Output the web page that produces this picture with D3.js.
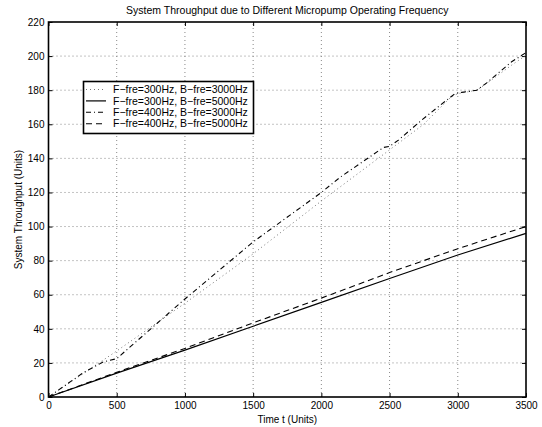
<!DOCTYPE html>
<html>
<head>
<meta charset="utf-8">
<script src="https://cdn.jsdelivr.net/npm/d3@7"></script>
<style>
  body { margin: 0; background: #fff; }
  text { font-family: "Liberation Sans", Arial, sans-serif; fill: #000; }
</style>
</head>
<body>
<svg id="chart"></svg>
<script>
let width = 542;
let height = 427;
let margin = {top: 22, right: 16, bottom: 30, left: 48.5};

// time values (Units) and throughput for each run
let xF300B3000 = [0, 500, 1000, 1500, 2000, 2500, 2750, 2950, 3000, 3140, 3212, 3400, 3500];
let yF300B3000 = [0, 27, 55, 84, 115, 145, 160, 176, 178, 180, 184, 195, 200.5];

let xF300B5000 = [0, 500, 1000, 1500, 2000, 2500, 3000, 3500];
let yF300B5000 = [0, 14, 27.5, 41.5, 55.5, 69.5, 83.3, 96];

let xF400B3000 = [0, 250, 400, 500, 750, 1000, 1500, 2000, 2139, 2455, 2500, 2565, 2736, 2919, 2980, 3029, 3139, 3212, 3395, 3500];
let yF400B3000 = [0, 14, 20.5, 22.5, 40, 57.5, 91, 120, 129, 146.4, 147, 150.7, 162.5, 174.2, 178, 178.7, 180, 184.3, 196.7, 202];

let xF400B5000 = [0, 500, 1000, 1500, 2000, 2500, 3000, 3500];
let yF400B5000 = [0, 14.5, 28.5, 43.5, 58, 73, 87, 100];

let legendLabels = [
        'F\u2212fre=300Hz, B\u2212fre=3000Hz',
        'F\u2212fre=300Hz, B\u2212fre=5000Hz',
        'F\u2212fre=400Hz, B\u2212fre=3000Hz',
        'F\u2212fre=400Hz, B\u2212fre=5000Hz'
];
let xTicks = [0, 500, 1000, 1500, 2000, 2500, 3000, 3500];
let yTicks = [0, 20, 40, 60, 80, 100, 120, 140, 160, 180, 200, 220];

let series = [
        {xs: xF300B3000, ys: yF300B3000, dash: '1,3', color: '#777', w: 1},
        {xs: xF300B5000, ys: yF300B5000, dash: null, color: '#000', w: 1.2},
        {xs: xF400B3000, ys: yF400B3000, dash: '5,3,1,3', color: '#000', w: 1.1},
        {xs: xF400B5000, ys: yF400B5000, dash: '6,4', color: '#000', w: 1.1}
];

let xScale = d3.scaleLinear()
        .domain([0, 3500])
        .range([margin.left, width - margin.right]);

let yScale = d3.scaleLinear()
        .domain([0, 220])
        .range([height - margin.bottom, margin.top]);

let svg = d3.select('#chart')
        .attr('width', width)
        .attr('height', height);

// grid
svg.append('g')
        .selectAll('line')
        .data(xTicks.slice(1, -1))
        .enter()
        .append('line')
        .attr('x1', d => xScale(d))
        .attr('x2', d => xScale(d))
        .attr('y1', yScale(0))
        .attr('y2', yScale(220))
        .attr('stroke', '#888')
        .attr('stroke-width', 1)
        .attr('stroke-dasharray', '1,3');

svg.append('g')
        .selectAll('line')
        .data(yTicks.slice(1, -1))
        .enter()
        .append('line')
        .attr('x1', xScale(0))
        .attr('x2', xScale(3500))
        .attr('y1', d => yScale(d))
        .attr('y2', d => yScale(d))
        .attr('stroke', '#888')
        .attr('stroke-width', 1)
        .attr('stroke-dasharray', '1,3');

// axes, ticks pointing inwards
let xAxis = d3.axisBottom(xScale).tickValues(xTicks).tickFormat(d3.format('d'))
        .tickSizeInner(-4).tickSizeOuter(0).tickPadding(5);
let yAxis = d3.axisLeft(yScale).tickValues(yTicks).tickFormat(d3.format('d'))
        .tickSizeInner(-4).tickSizeOuter(0).tickPadding(5);
let xAxisTop = d3.axisTop(xScale).tickValues(xTicks).tickSizeInner(-4).tickSizeOuter(0).tickFormat('');
let yAxisRight = d3.axisRight(yScale).tickValues(yTicks).tickSizeInner(-4).tickSizeOuter(0).tickFormat('');

let gx = svg.append('g')
        .attr('transform', 'translate(0,' + (height - margin.bottom) + ')')
        .call(xAxis);
let gy = svg.append('g')
        .attr('transform', 'translate(' + margin.left + ',0)')
        .call(yAxis);
svg.append('g')
        .attr('transform', 'translate(0,' + margin.top + ')')
        .call(xAxisTop);
svg.append('g')
        .attr('transform', 'translate(' + (width - margin.right) + ',0)')
        .call(yAxisRight);

svg.selectAll('.domain').remove();
svg.selectAll('.tick line').attr('stroke', '#000').attr('stroke-width', 1);
svg.selectAll('.tick text').style('font-size', '10px').style('font-family', '"Liberation Sans", Arial, sans-serif');
// bottom labels sit just under the axis, their top at the tick padding
gx.selectAll('.tick text').attr('y', 5).attr('dy', '0.71em');
gy.selectAll('.tick text').attr('x', -4);

svg.append('rect')
        .attr('x', xScale(0))
        .attr('y', yScale(220))
        .attr('width', xScale(3500) - xScale(0))
        .attr('height', yScale(0) - yScale(220))
        .attr('fill', 'none')
        .attr('stroke', '#000')
        .attr('stroke-width', 1.6);

// lines
let line = d3.line()
        .x(d => xScale(d[0]))
        .y(d => yScale(d[1]));

svg.append('g')
        .selectAll('path')
        .data(series)
        .enter()
        .append('path')
        .attr('d', s => line(d3.zip(s.xs, s.ys)))
        .attr('fill', 'none')
        .attr('stroke', s => s.color)
        .attr('stroke-width', s => s.w)
        .attr('stroke-dasharray', s => s.dash);

// legend
let legend = svg.append('g');
legend.append('rect')
        .attr('x', 83.5)
        .attr('y', 81.5)
        .attr('width', 170)
        .attr('height', 52)
        .attr('fill', '#fff')
        .attr('stroke', '#000')
        .attr('stroke-width', 1.6);

let rows = legend.selectAll('g.row')
        .data(series)
        .enter()
        .append('g')
        .attr('transform', (d, i) => 'translate(0,' + (89.5 + i * 11.4) + ')');

rows.append('line')
        .attr('x1', 86)
        .attr('x2', 106)
        .attr('stroke', s => s.color)
        .attr('stroke-width', s => s.w)
        .attr('stroke-dasharray', s => s.dash);

rows.append('text')
        .attr('x', 113)
        .attr('dy', '0.35em')
        .style('font-size', '10.5px')
        .text((d, i) => legendLabels[i]);

// titles
svg.append('text')
        .attr('x', (xScale(0) + xScale(3500)) / 2)
        .attr('y', 14)
        .style('text-anchor', 'middle')
        .style('font-size', '10.5px')
        .text('System Throughput due to Different Micropump Operating Frequency');

svg.append('text')
        .attr('x', (xScale(0) + xScale(3500)) / 2)
        .attr('y', 423)
        .style('text-anchor', 'middle')
        .style('font-size', '10px')
        .text('Time t (Units)');

svg.append('text')
        .attr('transform', 'rotate(-90)')
        .attr('x', -(yScale(0) + yScale(220)) / 2)
        .attr('y', 22)
        .style('text-anchor', 'middle')
        .style('font-size', '10px')
        .text('System Throughput (Units)');
</script>
</body>
</html>
